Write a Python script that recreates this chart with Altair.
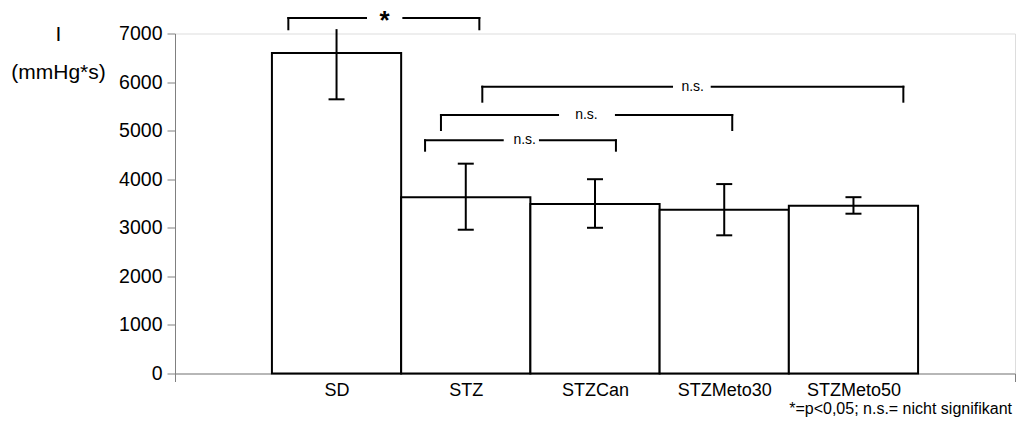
import json
import altair as alt
import pandas as pd

FONT = "Liberation Sans"

# ---- data ----
groups = ["SD", "STZ", "STZCan", "STZMeto30", "STZMeto50"]
means = [6600, 3630, 3490, 3370, 3455]
err_hi = [7090, 4320, 4000, 3900, 3630]
err_lo = [5645, 2960, 3000, 2845, 3290]
top_cap = [False, True, True, True, True]

# significance brackets (x in group-index units, y in mmHg*s)
br_label = ["*", "n.s.", "n.s.", "n.s."]
br_x1 = [-0.373, 1.128, 0.808, 0.685]
br_x2 = [1.105, 4.386, 3.062, 2.162]
br_gap_lo = [0.228, 2.596, 1.714, 1.286]
br_gap_hi = [0.517, 2.903, 2.162, 1.574]
br_text_x = [0.371, 2.756, 1.934, 1.456]
br_y = [7319, 5905, 5322, 4801]
br_drop = [7087, 5596, 5013, 4587]

footnote = "*=p<0,05; n.s.= nicht signifikant"
y_title = ["I", "(mmHg*s)"]

# ---- tables ----
bars = pd.DataFrame({
    "g": groups,
    "i": list(range(len(groups))),
    "mean": means,
    "lo": err_lo,
    "hi": err_hi,
})
bars["x0"] = bars["i"] - 0.5
bars["x1"] = bars["i"] + 0.5

caps_rows = []
for i, g in enumerate(groups):
    caps_rows.append({"i": i, "v": err_lo[i]})
    if top_cap[i]:
        caps_rows.append({"i": i, "v": err_hi[i]})
caps = pd.DataFrame(caps_rows)

seg_rows, tick_rows, txt_rows = [], [], []
for k in range(len(br_label)):
    seg_rows.append({"a": br_x1[k], "b": br_gap_lo[k], "y": br_y[k]})
    seg_rows.append({"a": br_gap_hi[k], "b": br_x2[k], "y": br_y[k]})
    tick_rows.append({"x": br_x1[k], "y": br_y[k], "y2": br_drop[k]})
    tick_rows.append({"x": br_x2[k], "y": br_y[k], "y2": br_drop[k]})
    txt_rows.append({"x": br_text_x[k], "y": br_y[k], "t": br_label[k]})
segs = pd.DataFrame(seg_rows)
bticks = pd.DataFrame(tick_rows)
btxt = pd.DataFrame(txt_rows)

xdom = [-1.25, len(groups) - 1 + 1.25]
xscale = alt.Scale(domain=xdom, nice=False, zero=False)
yscale = alt.Scale(domain=[0, 7000], nice=False)

label_expr = (
    "datum.value >= 0 && datum.value <= %d ? %s[round(datum.value)] : ''"
    % (len(groups) - 1, json.dumps(groups))
)

x_axis = alt.Axis(
    values=[xdom[0]] + list(range(len(groups))) + [xdom[1]],
    labelExpr=label_expr,
    title=None,
    grid=False,
    tickSize=8,
    tickColor="#808080",
    tickOpacity={"condition": {"test": "datum.value < 0 || datum.value > %d" % (len(groups) - 1), "value": 1}, "value": 0},
    domainColor="#808080",
    labelFontSize=18,
    labelFont=FONT,
    labelColor="black",
    labelPadding=0,
    labelOverlap=False,
    labelFlush=False,
)
y_axis = alt.Axis(
    values=list(range(0, 7001, 1000)),
    format="d",
    title=y_title,
    titleAngle=0,
    titleAlign="center",
    titleBaseline="top",
    titleX=-117,
    titleY=-10.5,
    titleLineHeight=38,
    titleFontSize=21,
    titleFontWeight="normal",
    titleFont=FONT,
    titleColor="black",
    grid=False,
    tickSize=8,
    tickColor="#808080",
    domainColor="#808080",
    labelFontSize=19.5,
    labelFont=FONT,
    labelColor="black",
    labelPadding=5,
)

bar_layer = alt.Chart(bars).mark_rect(fill="white", stroke="black", strokeWidth=2).encode(
    x=alt.X("x0:Q", scale=xscale, axis=x_axis),
    x2="x1:Q",
    y=alt.Y("mean:Q", scale=yscale, axis=y_axis),
    y2=alt.datum(0),
)

err_layer = alt.Chart(bars).mark_rule(color="black", strokeWidth=2).encode(
    x="i:Q", y="lo:Q", y2="hi:Q"
)

cap_layer = alt.Chart(caps).mark_tick(
    orient="horizontal", color="black", size=16, thickness=2, opacity=1
).encode(x="i:Q", y="v:Q")

seg_layer = alt.Chart(segs).mark_rule(color="black", strokeWidth=2, strokeCap="square").encode(
    x="a:Q", x2="b:Q", y="y:Q"
)
btick_layer = alt.Chart(bticks).mark_rule(color="black", strokeWidth=2, strokeCap="square").encode(
    x="x:Q", y="y:Q", y2="y2:Q"
)
ns_layer = alt.Chart(btxt[btxt["t"] != "*"]).mark_text(
    font=FONT, fontSize=14, baseline="middle", align="center", color="black"
).encode(x="x:Q", y="y:Q", text="t:N")
star_layer = alt.Chart(btxt[btxt["t"] == "*"]).mark_text(
    font=FONT, fontSize=26, fontWeight="bold", baseline="middle", align="center", color="black", dy=2.5
).encode(x="x:Q", y="y:Q", text="t:N")

chart = alt.layer(
    bar_layer, err_layer, cap_layer, seg_layer, btick_layer, ns_layer, star_layer
).properties(
    width=840,
    height=340,
    autosize=alt.AutoSizeParams(type="none"),
    padding={"left": 175, "top": 33.5, "right": 4, "bottom": 54.5},
    title=alt.TitleParams(
        text=footnote,
        orient="bottom",
        anchor="end",
        frame="group",
        fontSize=16,
        fontWeight="normal",
        font=FONT,
        color="black",
        offset=1,
        dx=-3,
    ),
).configure_view(stroke=None).configure(background="white")

chart.save("out.html", embed_options={"renderer": "svg", "actions": False})
